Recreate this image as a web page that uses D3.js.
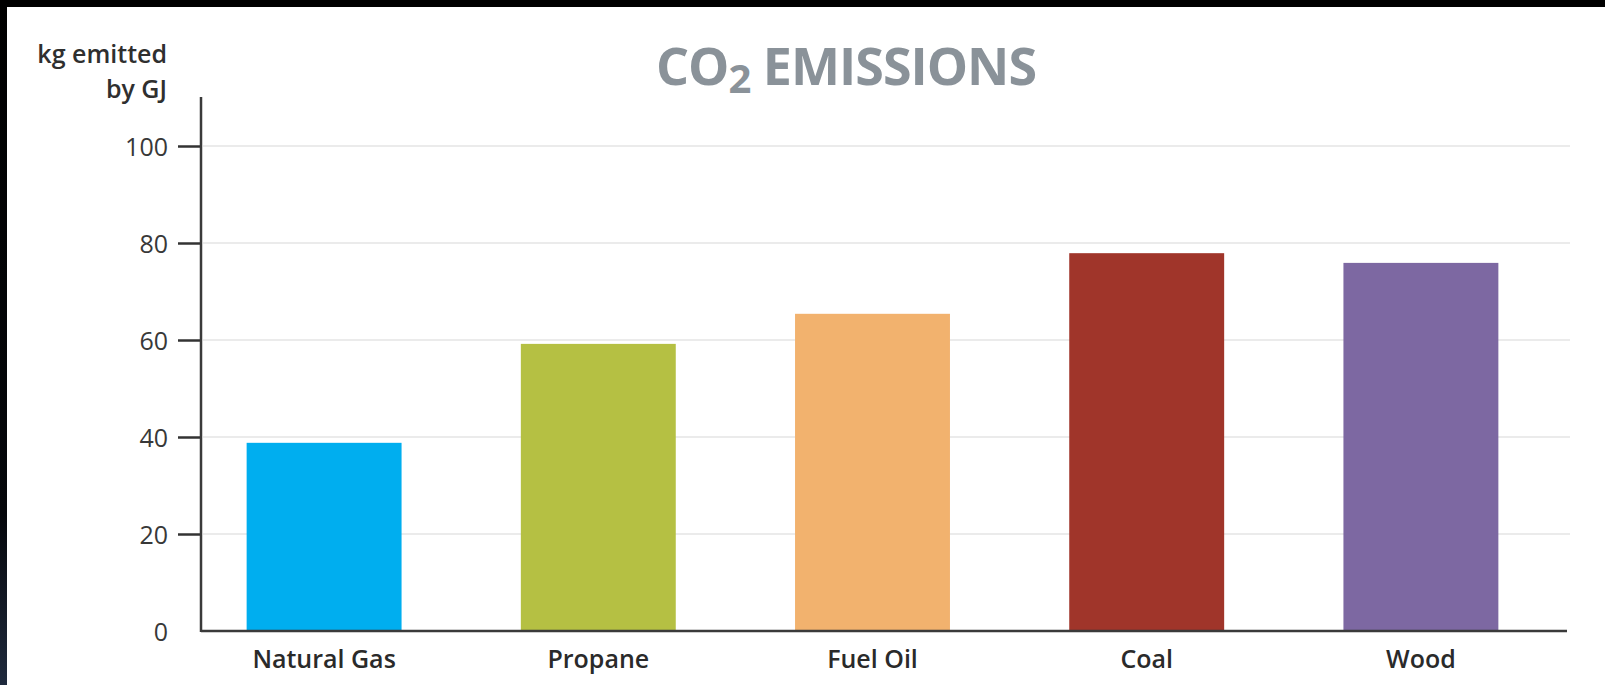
<!DOCTYPE html>
<html lang="en">
<head>
    <meta charset="UTF-8">
    <title>CO2 Emissions</title>
    <script src="https://d3js.org/d3.v7.min.js"></script>
    <style>
        body {
            margin: 0;
            background: #fff;
            overflow: hidden;
        }

        svg text {
            font-family: 'Open Sans', 'Noto Sans', sans-serif;
        }
    </style>
</head>
<body>
    <div id="chart"></div>
    <script>
        // values (kg CO2 per GJ)
        const fuels = ["Natural Gas", "Propane", "Fuel Oil", "Coal", "Wood"];
        const emissions = [38.8, 59.2, 65.4, 77.9, 75.9];
        const barColors = ["#00aeef", "#b5c043", "#f2b26e", "#a0352a", "#7d68a2"];
        const yTicks = [0, 20, 40, 60, 80, 100];

        const W = 1605, H = 685;

        const svg = d3.select("#chart").append("svg")
            .attr("width", W)
            .attr("height", H);

        // dark frame on top and left edges
        const defs = svg.append("defs");
        const grad = defs.append("linearGradient")
            .attr("id", "frameGrad")
            .attr("x1", "0%").attr("y1", "0%")
            .attr("x2", "0%").attr("y2", "100%");
        grad.append("stop").attr("offset", "0%").attr("stop-color", "#000");
        grad.append("stop").attr("offset", "75%").attr("stop-color", "#05070b");
        grad.append("stop").attr("offset", "100%").attr("stop-color", "#1f2a3d");

        svg.append("rect").attr("width", W).attr("height", H).attr("fill", "#fff");
        svg.append("rect").attr("width", W).attr("height", 7).attr("fill", "#000");
        svg.append("rect").attr("width", 7).attr("height", H).attr("fill", "url(#frameGrad)");

        const x = d3.scaleBand()
            .domain(fuels)
            .range([187, 1558])
            .paddingInner(0.435)
            .paddingOuter(0.2175);

        const y = d3.scaleLinear()
            .domain([0, 100])
            .range([631, 146]);

        const axisLeft = 201, axisRight = 1567;

        // gridlines
        svg.append("g")
            .selectAll("line")
            .data(yTicks.filter(d => d > 0))
            .join("line")
            .attr("x1", axisLeft + 2)
            .attr("x2", 1570)
            .attr("y1", d => y(d))
            .attr("y2", d => y(d))
            .attr("stroke", "#ebebeb")
            .attr("stroke-width", 2);

        // bars
        svg.append("g")
            .selectAll("rect")
            .data(fuels)
            .join("rect")
            .attr("x", d => x(d))
            .attr("width", x.bandwidth())
            .attr("y", (d, i) => y(emissions[i]))
            .attr("height", (d, i) => y(0) - y(emissions[i]))
            .attr("fill", (d, i) => barColors[i]);

        // y axis
        const yAxis = svg.append("g")
            .attr("transform", `translate(${axisLeft},0)`)
            .call(d3.axisLeft(y).tickValues(yTicks).tickSize(23).tickPadding(10).tickFormat(d3.format("d")));
        yAxis.select(".domain").remove();
        yAxis.selectAll(".tick line")
            .attr("stroke", "#333")
            .attr("stroke-width", 2.5)
            .filter(d => d === 0).remove();
        yAxis.selectAll(".tick text")
            .attr("fill", "#383838")
            .style("font-size", "25px")
            .attr("dy", "0.36em");

        svg.append("line")
            .attr("x1", axisLeft).attr("x2", axisLeft)
            .attr("y1", 97).attr("y2", y(0) + 1)
            .attr("stroke", "#3a3a3a")
            .attr("stroke-width", 2.5);

        // x axis
        svg.append("line")
            .attr("x1", axisLeft).attr("x2", axisRight)
            .attr("y1", y(0)).attr("y2", y(0))
            .attr("stroke", "#3a3a3a")
            .attr("stroke-width", 2.5);

        svg.append("g")
            .selectAll("text")
            .data(fuels)
            .join("text")
            .attr("x", d => x(d) + x.bandwidth() / 2)
            .attr("y", 668)
            .attr("text-anchor", "middle")
            .attr("fill", "#2a2a2a")
            .style("font-size", "25px")
            .style("font-weight", 600)
            .text(d => d);

        // y axis title
        const yTitle = svg.append("text")
            .attr("text-anchor", "end")
            .attr("fill", "#2f2f2f")
            .style("font-size", "25px")
            .style("font-weight", 600);
        yTitle.append("tspan").attr("x", 167).attr("y", 63).text("kg emitted");
        yTitle.append("tspan").attr("x", 167).attr("y", 98).text("by GJ");

        // chart title
        const title = svg.append("text")
            .attr("x", 846)
            .attr("y", 85)
            .attr("text-anchor", "middle")
            .attr("fill", "#8a9299")
            .style("font-size", "52px")
            .style("font-weight", 700)
            .style("letter-spacing", "-1px");
        title.append("tspan").text("CO");
        title.append("tspan").attr("dy", 8).style("font-size", "40px").text("2");
        title.append("tspan").attr("dy", -8).text(" EMISSIONS");
    </script>
</body>
</html>
